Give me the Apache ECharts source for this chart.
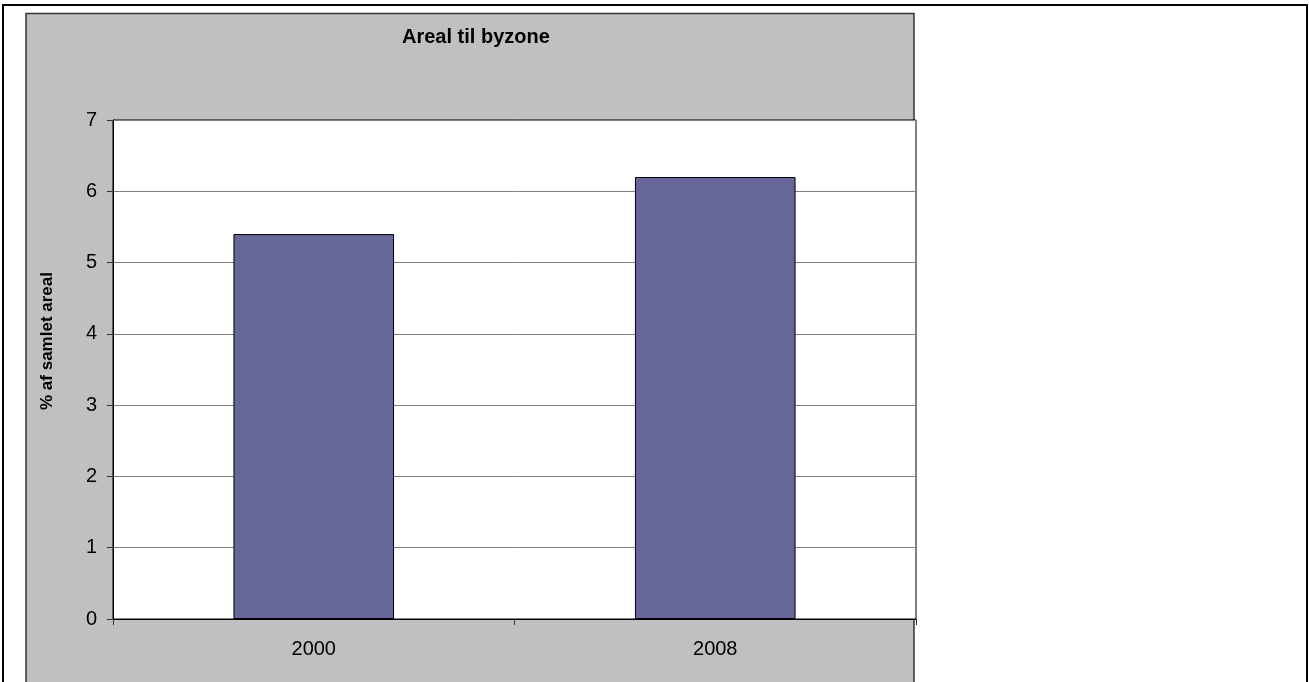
<!DOCTYPE html>
<html>
<head>
<meta charset="utf-8">
<script src="https://cdn.jsdelivr.net/npm/echarts@6/dist/echarts.min.js"></script>
<style>
  html, body { margin: 0; padding: 0; background: #ffffff; }
  #chart { width: 1309px; height: 682px; }
</style>
</head>
<body>
<div id="chart"></div>
<script>
const categories = ['2000', '2008'];
const values = [5.4, 6.2];
const titleText = 'Areal til byzone';
const yAxisTitle = '% af samlet areal';

const chart = echarts.init(document.getElementById('chart'), null, { renderer: 'canvas' });
const FONT = '"Liberation Sans", Arial, sans-serif';

chart.setOption({
  backgroundColor: '#ffffff',
  animation: false,
  title: {
    text: titleText,
    left: 402,
    top: 27,
    padding: 0,
    textStyle: { fontFamily: FONT, fontWeight: 'bold', fontSize: 20, color: '#000000' }
  },
  graphic: [
    {
      type: 'rect', z: -20, silent: true,
      shape: { x: 3, y: 5, width: 1304, height: 700 },
      style: { fill: '#ffffff', stroke: '#000000', lineWidth: 2 }
    },
    {
      type: 'rect', z: -10, silent: true,
      shape: { x: 26, y: 13.5, width: 888, height: 700 },
      style: { fill: '#c0c0c0', stroke: '#333333', lineWidth: 1.5 }
    },
    {
      type: 'text', z: 10, silent: true,
      x: 47, y: 341, rotation: Math.PI / 2,
      style: {
        text: yAxisTitle, x: 0, y: 0,
        align: 'center', verticalAlign: 'middle',
        font: 'bold 17px "Liberation Sans", Arial, sans-serif',
        fill: '#000000'
      }
    }
  ],
  grid: {
    left: 113, top: 120, right: 393, bottom: 63,
    show: true, backgroundColor: '#ffffff', borderColor: '#000000', borderWidth: 1,
    containLabel: false
  },
  xAxis: {
    type: 'category',
    data: categories,
    boundaryGap: true,
    axisLine: { show: true, lineStyle: { color: '#000000', width: 1 } },
    axisTick: { show: true, inside: false, length: 6, lineStyle: { color: '#333333' } },
    axisLabel: { margin: 20, fontFamily: FONT, fontSize: 20, color: '#000000' },
    splitLine: { show: false }
  },
  yAxis: {
    type: 'value',
    min: 0, max: 7, interval: 1,
    axisLine: { show: true, lineStyle: { color: '#000000', width: 1 } },
    axisTick: { show: true, inside: false, length: 6, lineStyle: { color: '#333333' } },
    axisLabel: { margin: 16, fontFamily: FONT, fontSize: 20, color: '#000000' },
    splitLine: { show: true, lineStyle: { color: '#808080', width: 1 } }
  },
  series: [{
    type: 'bar',
    data: values,
    barWidth: '40%',
    itemStyle: { color: '#666699', borderColor: '#000000', borderWidth: 1 },
    silent: true
  }]
});
</script>
</body>
</html>
